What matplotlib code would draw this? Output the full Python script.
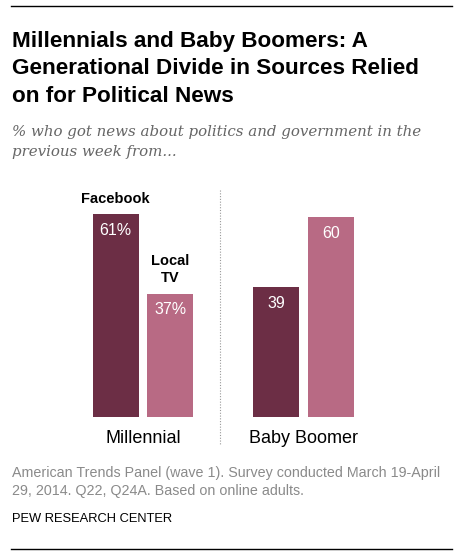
import matplotlib.pyplot as plt
import numpy as np

groups = ["Millennial", "Baby Boomer"]
series = ["Facebook", "Local TV"]
facebook = [61, 39]
local_tv = [37, 60]
value_labels = [["61%", "39"], ["37%", "60"]]
series_labels = ["Facebook", "Local\nTV"]

title = "Millennials and Baby Boomers: A\nGenerational Divide in Sources Relied\non for Political News"
subtitle = "% who got news about politics and government in the\nprevious week from..."
note = "American Trends Panel (wave 1). Survey conducted March 19-April\n29, 2014. Q22, Q24A. Based on online adults."
source = "PEW RESEARCH CENTER"

colors = ["#6c2e45", "#b86a84"]

W, H = 464, 556
fig = plt.figure(figsize=(W / 100, H / 100), dpi=100)


def fx(px):
    return px / W


def fy(py):
    return 1 - py / H


# -- AXES (pixel layout) --
ax_left, ax_right = 11, 452
ax_bottom, ax_top = 417, 187
ax = fig.add_axes([fx(ax_left), fy(ax_bottom), fx(ax_right - ax_left), (ax_bottom - ax_top) / H])
ax.set_ylim(0, (ax_bottom - ax_top) / 3.33)
ax.set_xlim(-0.822, 1.925)
ax.axis("off")

x = np.arange(len(groups))
w = 0.287
off = 0.17
data = [facebook, local_tv]
for i, vals in enumerate(data):
    xs = x + (-off if i == 0 else off)
    ax.bar(xs, vals, width=w, color=colors[i])
    for j, v in enumerate(vals):
        ax.text(xs[j], v - 2.6, value_labels[i][j], ha="center", va="top",
                color="white", fontsize=11.5, family="Liberation Sans")

# series labels above the Millennial bars
ax.text(x[0] - off, facebook[0] + 3.4, series_labels[0], ha="center", va="baseline",
        fontsize=10.5, fontweight="bold", family="Liberation Sans")
ax.text(x[0] + off, local_tv[0] + 3.4, series_labels[1], ha="center", va="baseline",
        fontsize=10.5, fontweight="bold", family="Liberation Sans", linespacing=1.3)

# category labels
for j, g in enumerate(groups):
    ax.text(x[j], -4.0, g, ha="center", va="top", fontsize=13, family="Liberation Sans",
            clip_on=False)

# dotted divider
ax.plot([0.48, 0.48], [(ax_bottom - 190) / 3.33, -(445 - ax_bottom) / 3.33], color="#999999",
        linestyle=(0, (1, 1.5)), linewidth=0.8, clip_on=False)

# -- TEXT (va=baseline anchors the last line) --
fig.text(fx(12), fy(102), title, ha="left", va="baseline", fontsize=16.2, fontweight="bold",
         family="Liberation Sans", linespacing=1.42)
fig.text(fx(12), fy(156), subtitle, ha="left", va="baseline", fontsize=10.8, style="italic",
         family="DejaVu Serif", color="#666666", linespacing=1.58)
fig.text(fx(12), fy(495), note, ha="left", va="baseline", fontsize=10.3, family="Liberation Sans",
         color="#8a8a8a", linespacing=1.4)
fig.text(fx(12), fy(522), source, ha="left", va="baseline", fontsize=9.3, family="Liberation Sans",
         color="black")

# top / bottom rules
fig.add_artist(plt.Line2D([fx(11), fx(452)], [fy(6), fy(6)], color="black", linewidth=1))
fig.add_artist(plt.Line2D([fx(11), fx(452)], [fy(549), fy(549)], color="black", linewidth=1))

fig.savefig("out.png", dpi=100)
